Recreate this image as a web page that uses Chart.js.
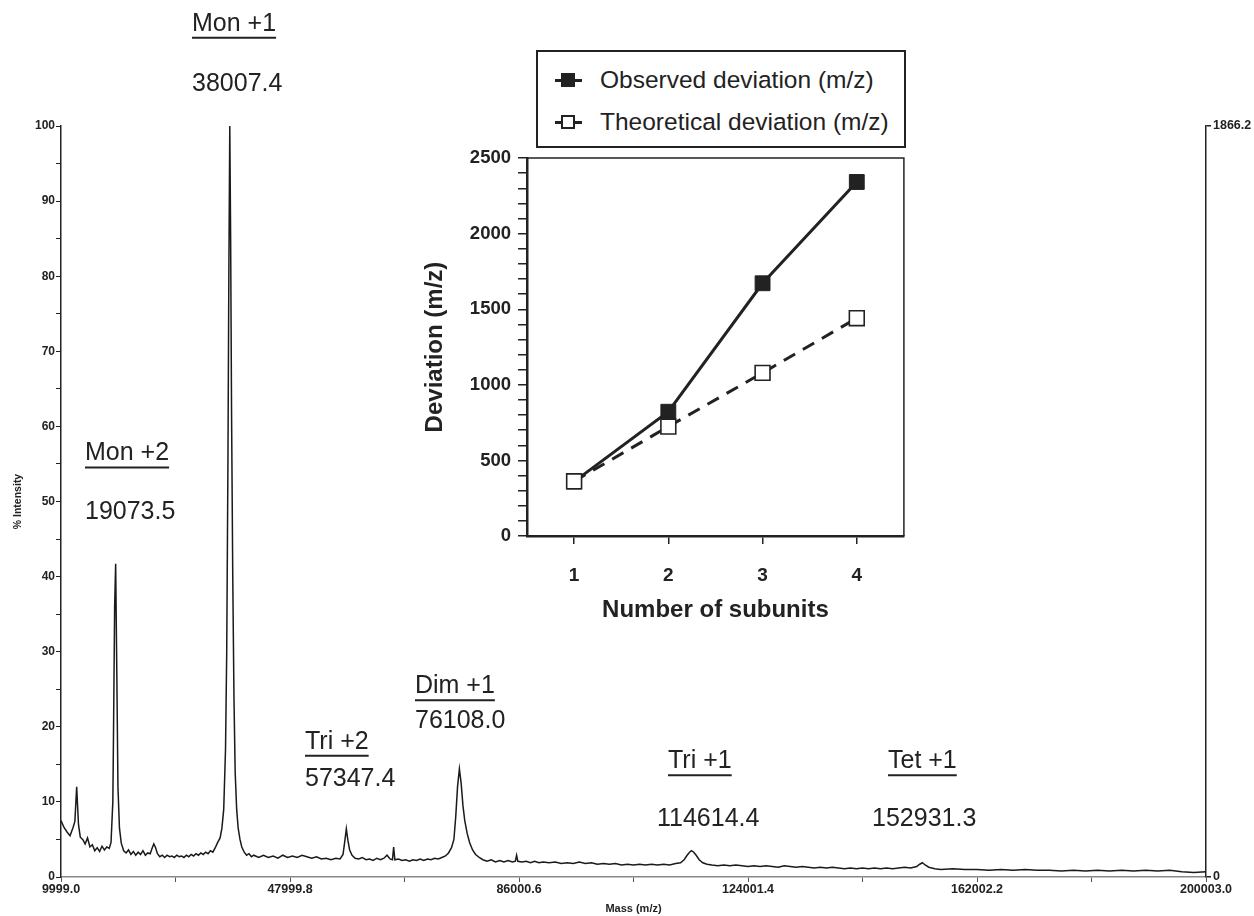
<!DOCTYPE html>
<html>
<head>
<meta charset="utf-8">
<title>Mass spectrum with deviation inset</title>
<script src="https://cdn.jsdelivr.net/npm/chart.js@4.4.1/dist/chart.umd.min.js"></script>
<style>
  html, body { margin: 0; padding: 0; background: #fff; }
  #wrap { position: relative; width: 1254px; height: 916px; overflow: hidden; }
  #spectrum { position: absolute; left: 0; top: 0; }
  #inset { position: absolute; left: 410px; top: 140px; }
  #legendBox {
    position: absolute; left: 536px; top: 50px; width: 366px; height: 94px;
    border: 2px solid #222; background: #fff;
    font-family: "Liberation Sans", Arial, sans-serif; font-size: 24.5px; color: #222;
  }
  .row { position: absolute; left: 0; height: 28px; line-height: 28px; }
  .row .tx { position: absolute; left: 62px; white-space: nowrap; }
  .row .ln { position: absolute; left: 17px; top: 13px; width: 27px; height: 3px; background: #222; }
  .row .sq { position: absolute; left: 23px; top: 7px; width: 14px; height: 14px; box-sizing: border-box; border: 2px solid #222; }
  .row .sq.fill { background: #222; }
  .row .sq.open { background: #fff; }
</style>
</head>
<body>
<div id="wrap">
  <canvas id="spectrum" width="1254" height="916"></canvas>
  <canvas id="inset" width="506" height="490"></canvas>
  <div id="legendBox">
    <div class="row" style="top:14px"><i class="ln"></i><i class="sq fill"></i><span class="tx">Observed deviation (m/z)</span></div>
    <div class="row" style="top:56px"><i class="ln"></i><i class="sq open"></i><span class="tx">Theoretical deviation (m/z)</span></div>
  </div>
</div>
<script>
Chart.defaults.font.family = '"Liberation Sans", Arial, sans-serif';
Chart.defaults.color = '#222';

// ---- spectrum ----
const massValues = [
  10000, 10500, 11000, 11500, 12000, 12300, 12600, 12900, 13200, 13600,
  14000, 14400, 14800, 15200, 15600, 16000, 16400, 16800, 17200, 17600,
  18000, 18300, 18600, 18700, 18900, 19070, 19250, 19450, 19700, 20000,
  20400, 20800, 21200, 21600, 22000, 22400, 22800, 23200, 23600, 24000,
  24400, 24800, 25100, 25400, 25700, 26000, 26400, 26800, 27200, 27600,
  28000, 28400, 28800, 29200, 29600, 30000, 30400, 30800, 31200, 31600,
  32000, 32400, 32800, 33200, 33600, 34000, 34400, 34800, 35200, 35600,
  36000, 36400, 36700, 37000, 37300, 37500, 37700, 37850, 38007, 38150,
  38300, 38500, 38700, 38900, 39150, 39400, 39700, 40000, 40400, 40800,
  41200, 41600, 42000, 42800, 43600, 44400, 45200, 46000, 46800, 47600,
  48400, 49200, 50000, 50800, 51600, 52400, 53200, 54000, 54800, 55600,
  56300, 56800, 57100, 57347, 57600, 57900, 58300, 58800, 59400, 60000,
  60600, 61200, 61800, 62400, 63000, 63600, 64100, 64600, 65000, 65200,
  65400, 66000, 66600, 67200, 67800, 68400, 69000, 69600, 70200, 70800,
  71400, 72000, 72600, 73200, 73800, 74300, 74800, 75200, 75500, 75800,
  76108, 76400, 76700, 77000, 77400, 77800, 78300, 78800, 79400, 80000,
  80700, 81400, 82100, 82800, 83500, 84200, 84900, 85400, 85600, 85800,
  86500, 87200, 87900, 88600, 89300, 90000, 91000, 92000, 93000, 94000,
  95000, 96000, 97000, 98000, 99000, 100000, 101000, 102000, 103000, 104000,
  105000, 106000, 107000, 108000, 109000, 110000, 111000, 112000, 112800, 113400,
  113900, 114300, 114614, 115000, 115400, 115900, 116500, 117200, 118000, 119000,
  120000, 121000, 122000, 123000, 124000, 125000, 126000, 127000, 128000, 129000,
  130000, 131000, 132000, 133000, 134000, 135000, 136000, 137000, 138000, 139000,
  140000, 141000, 142000, 143000, 144000, 145000, 146000, 147000, 148000, 149000,
  150000, 151000, 152000, 152500, 152931, 153400, 154000, 155000, 156000, 158000,
  160000, 162000, 164000, 166000, 168000, 170000, 172000, 174000, 176000, 178000,
  180000, 182000, 184000, 186000, 188000, 190000, 192000, 194000, 196000, 198000,
  200003
];
const intensityValues = [
  7.5, 6.6, 6.0, 5.5, 6.6, 7.4, 12.0, 7.0, 5.3, 5.0,
  4.4, 5.2, 4.0, 4.3, 3.5, 3.9, 3.4, 4.1, 3.6, 4.0,
  3.8, 4.6, 10.0, 18.0, 36.0, 41.7, 28.0, 12.0, 6.5, 4.5,
  3.5, 3.2, 3.6, 3.0, 3.4, 2.9, 3.3, 3.0, 3.5, 2.9,
  3.2, 3.1, 3.8, 4.4, 3.9, 3.1, 2.7, 2.9, 2.6, 2.9,
  2.7, 2.8, 2.6, 2.9, 2.7, 2.8, 2.6, 2.9, 2.7, 3.0,
  2.8, 3.1, 2.9, 3.2, 3.0, 3.3, 3.1, 3.5, 3.3, 3.9,
  4.6, 5.2, 6.5, 9.0, 17.0, 30.0, 55.0, 80.0, 100.0, 85.0,
  62.0, 40.0, 24.0, 14.0, 9.0, 6.5, 5.0, 4.0, 3.3, 2.9,
  3.1, 2.7, 2.9, 2.6, 2.9, 2.6, 2.8, 2.5, 2.9, 2.6,
  2.8, 2.6, 2.9, 2.7, 2.5, 2.7, 2.4, 2.5, 2.3, 2.5,
  2.4, 3.0, 4.8, 6.4, 4.9, 3.6, 2.9, 2.5, 2.4, 2.6,
  2.3, 2.4, 2.2, 2.5, 2.3, 2.5, 2.9, 2.4, 2.3, 4.0,
  2.3, 2.4, 2.2, 2.3, 2.1, 2.3, 2.2, 2.4, 2.2, 2.4,
  2.3, 2.5, 2.4, 2.6, 2.8, 3.2, 3.9, 5.0, 8.0, 12.0,
  14.4, 12.5, 9.5, 7.5, 5.8, 4.6, 3.6, 3.0, 2.6, 2.3,
  2.1, 2.3, 2.0, 2.2, 2.0, 2.2, 2.0, 2.1, 2.9, 2.1,
  2.0, 2.1, 1.9, 2.1, 1.9, 2.0, 1.9, 2.0, 1.8, 1.9,
  1.8, 2.0, 1.8, 1.9, 1.7, 1.8, 1.7, 1.8, 1.6, 1.7,
  1.6, 1.7, 1.6, 1.7, 1.6, 1.7, 1.6, 1.8, 1.9, 2.3,
  2.9, 3.3, 3.5, 3.3, 2.9, 2.3, 1.9, 1.7, 1.6, 1.5,
  1.6, 1.5, 1.6, 1.5, 1.4, 1.5, 1.4, 1.5, 1.4, 1.3,
  1.5, 1.4, 1.3, 1.4, 1.3, 1.2, 1.3, 1.2, 1.3, 1.2,
  1.1, 1.2, 1.1, 1.2, 1.1, 1.2, 1.1, 1.2, 1.1, 1.2,
  1.3, 1.2, 1.4, 1.7, 1.9, 1.6, 1.3, 1.1, 1.0, 1.1,
  1.0, 1.0, 0.9, 1.0, 0.9, 1.0, 0.9, 0.9, 0.8, 0.9,
  0.8, 0.9, 0.8, 0.9, 0.8, 0.9, 0.8, 0.9, 0.7, 0.6,
  0.7
];

const massTicks = [9999.0, 28999.4, 47999.8, 67000.2, 86000.6, 105001.0, 124001.4, 143001.8, 162002.2, 181002.6, 200003.0];
const massTickLabels = ["9999.0", "", "47999.8", "", "86000.6", "", "124001.4", "", "162002.2", "", "200003.0"];
const rightAxisTicks = [0, 1866.2];
const rightAxisLabels = ["0", "1866.2"];

// peak annotations
const peakNames = ["Mon +1", "Mon +2", "Tri +2", "Dim +1", "Tri +1", "Tet +1"];
const peakValues = ["38007.4", "19073.5", "57347.4", "76108.0", "114614.4", "152931.3"];
// anchors in data units: [mass, % intensity]
const nameAt = [[31740, 113.6], [13980, 56.4], [50490, 18.0], [68740, 25.4], [110730, 15.4], [147230, 15.4]];
const valueAt = [[31740, 105.6], [13980, 48.6], [50490, 13.0], [68740, 20.7], [108900, 7.7], [144580, 7.7]];

// ---- inset ----
const subunits = [1, 2, 3, 4];
const observedDev = [360, 822, 1672, 2342];
const theoreticalDev = [362, 724, 1079, 1441];

const ink = '#222';

const peakLabelPlugin = {
  id: 'peakLabels',
  afterDraw(chart) {
    const ctx = chart.ctx;
    const xs = chart.scales.x, ys = chart.scales.y;
    ctx.save();
    ctx.fillStyle = ink;
    ctx.strokeStyle = ink;
    ctx.font = '25px "Liberation Sans", Arial, sans-serif';
    ctx.textAlign = 'left';
    ctx.textBaseline = 'middle';
    peakNames.forEach((name, i) => {
      const nx = xs.getPixelForValue(nameAt[i][0]);
      const ny = ys.getPixelForValue(nameAt[i][1]);
      ctx.fillText(name, nx, ny);
      const w = ctx.measureText(name).width;
      ctx.lineWidth = 2;
      ctx.beginPath();
      ctx.moveTo(nx, ny + 14);
      ctx.lineTo(nx + w, ny + 14);
      ctx.stroke();
      ctx.fillText(peakValues[i], xs.getPixelForValue(valueAt[i][0]), ys.getPixelForValue(valueAt[i][1]));
    });
    ctx.restore();
  }
};

new Chart(document.getElementById('spectrum'), {
  type: 'line',
  data: {
    datasets: [{
      data: massValues.map((m, i) => ({ x: m, y: intensityValues[i] })),
      borderColor: '#1a1a1a',
      borderWidth: 1.5,
      pointRadius: 0,
      tension: 0,
      fill: false
    }]
  },
  options: {
    responsive: false,
    animation: false,
    layout: { padding: { top: 126, left: 0, right: 0, bottom: 0 } },
    plugins: { legend: { display: false }, tooltip: { enabled: false } },
    scales: {
      x: {
        type: 'linear',
        min: 9999.0,
        max: 200003.0,
        afterBuildTicks: s => { s.ticks = massTicks.map(v => ({ value: v })); },
        afterFit: s => { s.height = 39; },
        ticks: {
          autoSkip: false, maxRotation: 0, padding: 0,
          font: { size: 12.5, weight: 'bold' }, color: ink,
          callback: (v, i) => massTickLabels[i]
        },
        grid: { drawOnChartArea: false, tickLength: 5, color: '#555', lineWidth: 1 },
        border: { color: '#888', width: 1.5 },
        title: { display: true, text: 'Mass (m/z)', font: { size: 11, weight: 'bold' }, color: ink, padding: { top: 0, bottom: 0 } }
      },
      y: {
        position: 'left',
        min: 0,
        max: 100,
        afterFit: s => { s.width = 61; },
        ticks: {
          stepSize: 5, padding: 1, autoSkip: false,
          font: { size: 12, weight: 'bold' }, color: ink,
          callback: v => (v % 10 === 0 ? String(v) : '')
        },
        grid: { drawOnChartArea: false, tickLength: 5, color: '#222', lineWidth: 1 },
        border: { color: '#222', width: 1.5 },
        title: { display: true, text: '% Intensity', font: { size: 10.5, weight: 'bold' }, color: ink, padding: { top: 12, bottom: 0 } }
      },
      y2: {
        position: 'right',
        min: 0,
        max: 1866.2,
        afterBuildTicks: s => { s.ticks = rightAxisTicks.map(v => ({ value: v })); },
        afterFit: s => { s.width = 48; },
        ticks: {
          padding: 2, autoSkip: false,
          font: { size: 12.5, weight: 'bold' }, color: ink,
          callback: (v, i) => rightAxisLabels[i]
        },
        grid: { drawOnChartArea: false, tickLength: 5, color: '#222', lineWidth: 1.5 },
        border: { color: '#222', width: 1.5 }
      }
    }
  },
  plugins: [peakLabelPlugin]
});

const frameBoxPlugin = {
  id: 'frameBox',
  beforeDraw(chart) {
    const a = chart.chartArea, ctx = chart.ctx;
    ctx.save();
    ctx.fillStyle = '#fff';
    ctx.fillRect(a.left, a.top, a.right - a.left, a.bottom - a.top);
    ctx.restore();
  },
  afterDatasetsDraw(chart) {
    const a = chart.chartArea, ctx = chart.ctx;
    ctx.save();
    ctx.strokeStyle = ink;
    ctx.lineWidth = 1.5;
    ctx.beginPath();
    ctx.moveTo(a.left, a.top);
    ctx.lineTo(a.right, a.top);
    ctx.lineTo(a.right, a.bottom);
    ctx.stroke();
    ctx.restore();
  }
};

new Chart(document.getElementById('inset'), {
  type: 'line',
  data: {
    datasets: [
      {
        label: 'Theoretical deviation (m/z)',
        data: subunits.map((s, i) => ({ x: s, y: theoreticalDev[i] })),
        borderColor: ink,
        borderWidth: 3,
        borderDash: [13, 9],
        pointStyle: 'rect',
        pointRadius: 10.5,
        pointBackgroundColor: '#fff',
        pointBorderColor: ink,
        pointBorderWidth: 1.6,
        tension: 0,
        order: 0
      },
      {
        label: 'Observed deviation (m/z)',
        data: subunits.map((s, i) => ({ x: s, y: observedDev[i] })),
        borderColor: ink,
        borderWidth: 3,
        pointStyle: 'rect',
        pointRadius: 10.5,
        pointBackgroundColor: ink,
        pointBorderColor: ink,
        pointBorderWidth: 1,
        tension: 0,
        order: 1
      }
    ]
  },
  options: {
    responsive: false,
    animation: false,
    layout: { padding: { top: 14, left: 0, right: 7, bottom: 0 } },
    plugins: { legend: { display: false }, tooltip: { enabled: false } },
    scales: {
      x: {
        type: 'linear',
        min: 0.5,
        max: 4.5,
        afterBuildTicks: s => { s.ticks = subunits.map(v => ({ value: v })); },
        afterFit: s => { s.height = 94; },
        ticks: { padding: 20, font: { size: 19, weight: 'bold' }, color: ink, callback: v => String(v) },
        grid: { drawOnChartArea: false, tickLength: 8, color: ink, lineWidth: 1.5 },
        border: { color: ink, width: 2.5 },
        title: { display: true, text: 'Number of subunits', font: { size: 24, weight: 'bold' }, color: ink, padding: { top: 0, bottom: 5 } }
      },
      y: {
        min: 0,
        max: 2500,
        afterFit: s => { s.width = 117; },
        ticks: {
          stepSize: 100, autoSkip: false, padding: 7,
          font: { size: 18.5, weight: 'bold' }, color: ink,
          callback: v => (v % 500 === 0 ? String(v) : '')
        },
        grid: { drawOnChartArea: false, tickLength: 9, color: ink, lineWidth: 1.5 },
        border: { color: ink, width: 2.5 },
        title: { display: true, text: 'Deviation (m/z)', font: { size: 24, weight: 'bold' }, color: ink, padding: { top: 11, bottom: 0 } }
      }
    }
  },
  plugins: [frameBoxPlugin]
});
</script>
</body>
</html>
